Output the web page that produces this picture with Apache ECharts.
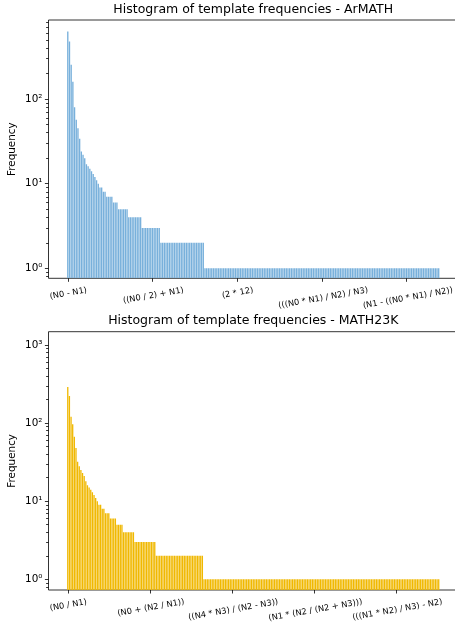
<!DOCTYPE html>
<html><head><meta charset="utf-8">
<script src="https://cdn.jsdelivr.net/npm/echarts@6/dist/echarts.min.js"></script>
<style>html,body{margin:0;padding:0;background:#fff}#c{width:455px;height:623px}</style>
</head><body><div id="c"></div>
<script>
const FONT = 'DejaVu Sans';

// ---- ArMATH (template frequencies, sorted) ----
const armathHead = [625, 476, 253, 160, 80, 57, 45, 34, 24, 22, 20, 17, 16, 15, 14, 13, 12, 11, 10, 9, 9, 8, 8];
const armathTailLevels = [7, 6, 5, 4, 3, 2, 1];
const armathTailCounts = [4, 3, 6, 8, 11, 26, 139];
const armathTickIndex = [0, 50, 100, 150, 200];
const armathTickLabels = ['(N0 - N1)', '((N0 / 2) + N1)', '(2 * 12)', '(((N0 * N1) / N2) / N3)', '(N1 - ((N0 * N1) / N2))'];
const armathYTicks = [1, 10, 100];

// ---- MATH23K ----
const mathHead = [290, 222, 121, 97, 67, 48, 32, 28, 25, 23, 21, 18, 16, 15, 14, 13, 12, 11, 10, 9, 9, 8, 8];
const mathTailLevels = [7, 6, 5, 4, 3, 2, 1];
const mathTailCounts = [3, 4, 4, 7, 13, 29, 144];
const mathTickIndex = [0, 50, 100, 150, 200];
const mathTickLabels = ['(N0 / N1)', '(N0 + (N2 / N1))', '((N4 * N3) / (N2 - N3))', '(N1 * (N2 / (N2 + N3)))', '(((N1 * N2) / N3) - N2)'];
const mathYTicks = [1, 10, 100, 1000];

const SUP = ['⁰', '¹', '²', '³'];

function expand(head, levels, counts) {
  const out = head.slice();
  levels.forEach((v, k) => { for (let j = 0; j < counts[k]; j++) out.push(v); });
  return out;
}
const armath = expand(armathHead, armathTailLevels, armathTailCounts);
const math23k = expand(mathHead, mathTailLevels, mathTailCounts);

function minorTicks(min, max) {
  const r = [];
  for (let d = -1; d <= 3; d++) for (let k = 2; k <= 9; k++) {
    const v = k * Math.pow(10, d);
    if (v >= min && v <= max) r.push(v);
  }
  return r;
}

const ctx = document.createElement('canvas').getContext('2d');
const XFS = 8.3;
ctx.font = XFS + 'px "' + FONT + '"';
function richFor(labels) {
  const r = {};
  labels.forEach((t, k) => {
    const w = ctx.measureText(t).width;
    r['p' + k] = { fontSize: XFS, fontFamily: FONT, color: '#000', lineHeight: 10,
                   padding: [w * Math.sin(10 * Math.PI / 180), 0, 0, 0] };
  });
  return r;
}

const GL = 48.5, GW = 409.5, GH = 258.3;
const grids = [{ top: 20 }, { top: 331.7 }];
const yRanges = [[0.762, 857], [0.73, 1479]];
const datasets = [armath, math23k];
const tickIdx = [armathTickIndex, mathTickIndex];
const tickLab = [armathTickLabels, mathTickLabels];
const yTicks = [armathYTicks, mathYTicks];
const colors = ['#78B0DB', '#F0B800'];
const titles = ['Histogram of template frequencies - ArMATH', 'Histogram of template frequencies - MATH23K'];
const titleTops = [3, 314];

const option = {
  animation: false,
  backgroundColor: '#fff',
  title: titles.map((t, g) => ({
    text: t, left: GL + GW / 2, top: titleTops[g], textAlign: 'center', padding: 0,
    textStyle: { fontFamily: FONT, fontSize: 12.5, fontWeight: 'normal', color: '#000' }
  })),
  grid: grids.map(g => ({ left: GL, top: g.top, width: GW, height: GH, show: true,
    borderColor: '#000', borderWidth: 0.8, backgroundColor: 'transparent',
    containLabel: false, outerBoundsMode: 'none' })),
  xAxis: [],
  yAxis: [],
  series: datasets.map((d, g) => ({
    type: 'custom', xAxisIndex: g * 2, yAxisIndex: g * 2, silent: true, clip: true,
    data: d.map((v, i) => [i, v]), encode: { x: 0, y: 1 },
    renderItem: (params, api) => {
      const i = api.value(0), v = api.value(1);
      const a = api.coord([i - 0.4, v]);
      const b = api.coord([i + 0.4, v]);
      const bottom = params.coordSys.y + params.coordSys.height;
      return { type: 'rect', shape: { x: a[0], y: a[1], width: b[0] - a[0], height: bottom - a[1] },
               style: { fill: colors[g] } };
    }
  }))
};

// x axes: labels split over two overlapping axes so neighbouring rotated labels are not auto-hidden
datasets.forEach((d, g) => {
  const N = d.length;
  const ticks = tickIdx[g], labels = tickLab[g];
  const groups = [ticks.filter((t, k) => k !== 3), ticks.filter((t, k) => k === 3)];
  groups.forEach((vals) => {
    option.xAxis.push({
      type: 'value', gridIndex: g, position: 'bottom',
      min: -0.4 - 0.05 * (N - 0.2), max: N - 0.6 + 0.05 * (N - 0.2),
      axisLine: { show: false, onZero: false }, splitLine: { show: false },
      axisTick: { show: true, customValues: vals, length: 3.5, lineStyle: { color: '#000', width: 0.8 } },
      axisLabel: {
        customValues: vals, rotate: 10, align: 'center', verticalAlign: 'middle', margin: 12,
        hideOverlap: false, showMinLabel: true, showMaxLabel: true,
        fontSize: XFS, fontFamily: FONT, color: '#000',
        formatter: (val) => { const k = ticks.indexOf(Math.round(val)); return k < 0 ? '' : '{p' + k + '|' + labels[k] + '}'; },
        rich: richFor(labels)
      }
    });
  });
});

datasets.forEach((d, g) => {
  const [mn, mx] = yRanges[g];
  option.yAxis.push({
    type: 'log', logBase: 10, gridIndex: g, position: 'left', offset: 0, min: mn, max: mx,
    axisLine: { show: false, onZero: false }, splitLine: { show: false },
    axisTick: { show: true, customValues: yTicks[g], length: 3.6, lineStyle: { color: '#000', width: 0.8 } },
    axisLabel: { customValues: yTicks[g], fontSize: 10.4, fontFamily: FONT, color: '#000', margin: 6,
      hideOverlap: false, showMinLabel: true, showMaxLabel: true,
      formatter: (v) => '10' + SUP[Math.round(Math.log10(v))] },
    name: 'Frequency', nameLocation: 'middle', nameGap: 31, nameMoveOverlap: false,
    nameTextStyle: { fontSize: 10.4, fontFamily: FONT, color: '#000' }
  });
  const mt = minorTicks(mn, mx);
  option.yAxis.push({
    type: 'log', logBase: 10, gridIndex: g, position: 'left', offset: 0, min: mn, max: mx,
    axisLine: { show: false, onZero: false }, splitLine: { show: false },
    axisTick: { show: true, customValues: mt, length: 2.4, lineStyle: { color: '#000', width: 0.8 } },
    axisLabel: { show: true, customValues: mt, formatter: () => '', hideOverlap: false }
  });
});

const chart = echarts.init(document.getElementById('c'), null, { renderer: 'canvas' });
chart.setOption(option);
</script>
</body></html>
